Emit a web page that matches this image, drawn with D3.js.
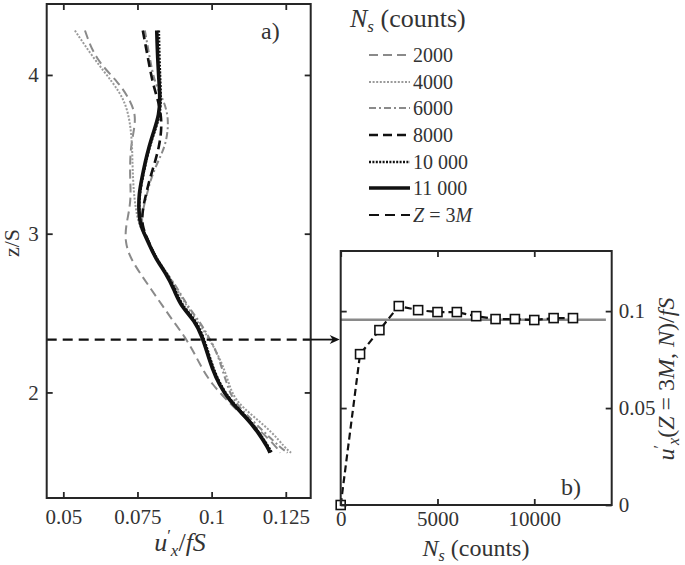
<!DOCTYPE html>
<html>
<head>
<meta charset="utf-8">
<script src="https://cdn.jsdelivr.net/npm/d3@7/dist/d3.min.js"></script>
<style>
  html, body { margin: 0; padding: 0; background: #fff; }
  svg text { font-family: "Liberation Serif", "DejaVu Serif", serif; fill: #333; }
</style>
</head>
<body>
<svg id="chart" width="685" height="565"></svg>
<script>
// ---------------- DATA ----------------
// Panel a: profiles u'_x/fS versus z/S for several sample counts
const zGrid = [4.28, 4.1, 3.95, 3.85, 3.75, 3.65, 3.55, 3.45, 3.35, 3.25, 3.15, 3.05, 2.95, 2.85, 2.75, 2.65, 2.55, 2.45, 2.35, 2.25, 2.15, 2.05, 1.95, 1.85, 1.75, 1.65, 1.62];
const u2000  = [0.0573, 0.0607, 0.0688, 0.0722, 0.0745, 0.0738, 0.0728, 0.0725, 0.0725, 0.0728, 0.0723, 0.0711, 0.0708, 0.0725, 0.0759, 0.0796, 0.0833, 0.0870, 0.0910, 0.0941, 0.0968, 0.1002, 0.1052, 0.1106, 0.1170, 0.1221, 0.1231];
const u4000  = [0.0539, 0.0604, 0.0668, 0.0703, 0.0720, 0.0728, 0.0732, 0.0733, 0.0735, 0.0738, 0.0745, 0.0755, 0.0787, 0.0811, 0.0851, 0.0883, 0.0914, 0.0951, 0.0988, 0.1018, 0.1042, 0.1059, 0.1079, 0.1140, 0.1204, 0.1248, 0.1268];
const u6000  = [0.0775, 0.0792, 0.0808, 0.0836, 0.0853, 0.0853, 0.0843, 0.0818, 0.0796, 0.0782, 0.0768, 0.0762, 0.0787, 0.0810, 0.0850, 0.0887, 0.0917, 0.0958, 0.0991, 0.1018, 0.1035, 0.1052, 0.1072, 0.1123, 0.1177, 0.1234, 0.1256];
const u8000  = [0.0768, 0.0786, 0.0801, 0.0818, 0.0830, 0.0831, 0.0823, 0.0809, 0.0792, 0.0779, 0.0767, 0.0764, 0.0788, 0.0810, 0.0847, 0.0875, 0.0896, 0.0946, 0.0970, 0.0987, 0.1004, 0.1027, 0.1061, 0.1115, 0.1159, 0.1192, 0.1199];
const u10000 = [0.0822, 0.0824, 0.0827, 0.0829, 0.0826, 0.0809, 0.0791, 0.0778, 0.0767, 0.0757, 0.0755, 0.0760, 0.0787, 0.0811, 0.0849, 0.0877, 0.0899, 0.0948, 0.0972, 0.0989, 0.1006, 0.1029, 0.1063, 0.1116, 0.1160, 0.1194, 0.1203];
const u11000 = [0.0815, 0.0818, 0.0823, 0.0826, 0.0823, 0.0806, 0.0789, 0.0776, 0.0765, 0.0755, 0.0754, 0.0759, 0.0786, 0.0809, 0.0846, 0.0873, 0.0894, 0.0944, 0.0968, 0.0985, 0.1002, 0.1025, 0.1059, 0.1113, 0.1157, 0.1190, 0.1197];
const zRef = 2.333;   // Z = 3M

const seriesNames = ["2000", "4000", "6000", "8000", "10 000", "11 000"];

// Panel b: u'_x at Z = 3M versus number of samples
const nCounts = [0, 1000, 2000, 3000, 4000, 5000, 6000, 7000, 8000, 9000, 10000, 11000, 12000];
const uAtRef  = [0, 0.0778, 0.0902, 0.1026, 0.1005, 0.0995, 0.0995, 0.0974, 0.0959, 0.0959, 0.0954, 0.0964, 0.0964];
const uConverged = 0.0955;

// Tick values
const ticksAx = [0.05, 0.075, 0.1, 0.125];
const ticksAy = [2, 3, 4];
const ticksBx = [0, 5000, 10000];
const ticksBy = [0, 0.05, 0.1];

// ---------------- STYLES ----------------
const styles = [
  {stroke: "#8a8a8a", width: 2,   dash: "9,5"},
  {stroke: "#9a9a9a", width: 2,   dash: "2,1.6"},
  {stroke: "#8a8a8a", width: 2,   dash: "7,3,2,3"},
  {stroke: "#111",    width: 2.6, dash: "9,5"},
  {stroke: "#111",    width: 2.6, dash: "2,1.4"},
  {stroke: "#111",    width: 3.6, dash: null}
];
const seriesVals = [u2000, u4000, u6000, u8000, u10000, u11000];

const svg = d3.select("#chart");
const axisColor = "#262626";

// ---------------- PANEL A ----------------
const xA = d3.scaleLinear().domain([0.0444, 0.1334]).range([46.7, 310.7]);
const yA = d3.scaleLinear().domain([1.335, 4.447]).range([498, 4]);

const gA = svg.append("g");
const lineA = d3.line().x(d => xA(d[0])).y(d => yA(d[1])).curve(d3.curveBasis);

seriesVals.forEach((vals, i) => {
  const pts = vals.map((v, k) => [v, zGrid[k]]);
  gA.append("path")
    .attr("d", lineA(pts))
    .attr("fill", "none")
    .attr("stroke", styles[i].stroke)
    .attr("stroke-width", styles[i].width)
    .attr("stroke-dasharray", styles[i].dash);
});

// reference dashed line Z = 3M
gA.append("line")
  .attr("x1", xA.range()[0]).attr("x2", xA.range()[1])
  .attr("y1", yA(zRef)).attr("y2", yA(zRef))
  .attr("stroke", "#111").attr("stroke-width", 2.2)
  .attr("stroke-dasharray", "10,6");

function styleAxis(g) {
  g.select(".domain").remove();
  g.selectAll(".tick line").attr("stroke", axisColor).attr("stroke-width", 1.8);
  g.selectAll(".tick text").attr("font-size", 21).attr("fill", "#333")
    .attr("font-family", "Liberation Serif, serif");
}

// axes panel a
const fmtA = d => (d === 0.1 ? "0.1" : String(d));
gA.append("g").attr("transform", `translate(0,${yA.range()[0]})`)
  .call(d3.axisBottom(xA).tickValues(ticksAx).tickSize(-6).tickPadding(11).tickFormat(fmtA)).call(styleAxis);
gA.append("g").attr("transform", `translate(0,${yA.range()[1]})`)
  .call(d3.axisTop(xA).tickValues(ticksAx).tickSize(-6).tickFormat("")).call(styleAxis);
gA.append("g").attr("transform", `translate(${xA.range()[0]},0)`)
  .call(d3.axisLeft(yA).tickValues(ticksAy).tickSize(-6).tickPadding(8).tickFormat(d3.format("d"))).call(styleAxis);
gA.append("g").attr("transform", `translate(${xA.range()[1]},0)`)
  .call(d3.axisRight(yA).tickValues(ticksAy).tickSize(-6).tickFormat("")).call(styleAxis);

gA.append("rect")
  .attr("x", xA.range()[0]).attr("y", yA.range()[1])
  .attr("width", xA.range()[1] - xA.range()[0]).attr("height", yA.range()[0] - yA.range()[1])
  .attr("fill", "none").attr("stroke", axisColor).attr("stroke-width", 2);

// labels panel a
const xlabA = gA.append("text").attr("x", 180).attr("y", 551).attr("text-anchor", "middle").attr("font-size", 26);
xlabA.append("tspan").attr("font-style", "italic").text("u");
xlabA.append("tspan").attr("font-size", 17).attr("dy", -10).text("′");
xlabA.append("tspan").attr("font-size", 17).attr("font-style", "italic").attr("dy", 15).text("x");
xlabA.append("tspan").attr("dy", -5).text("/");
xlabA.append("tspan").attr("font-style", "italic").text("fS");

gA.append("text").attr("transform", "translate(19,243) rotate(-90)")
  .attr("text-anchor", "middle").attr("font-size", 22).text("z/S");

gA.append("text").attr("x", 261).attr("y", 39).attr("font-size", 24).text("a)");

// ---------------- PANEL B ----------------
const xB = d3.scaleLinear().domain([0, 14000]).range([340.7, 611.7]);
const yB = d3.scaleLinear().domain([0, 0.131]).range([505, 251]);
const gB = svg.append("g");

gB.append("line")
  .attr("x1", xB(0)).attr("x2", xB(13700))
  .attr("y1", yB(uConverged)).attr("y2", yB(uConverged))
  .attr("stroke", "#8a8a8a").attr("stroke-width", 2.5);

const lineB = d3.line().x((d, i) => xB(nCounts[i])).y(d => yB(d));
gB.append("path").attr("d", lineB(uAtRef))
  .attr("fill", "none").attr("stroke", "#111").attr("stroke-width", 2.2)
  .attr("stroke-dasharray", "7,4");

gB.selectAll("rect.pt").data(uAtRef).enter().append("rect")
  .attr("class", "pt")
  .attr("x", (d, i) => xB(nCounts[i]) - 4.5).attr("y", d => yB(d) - 4.5)
  .attr("width", 9).attr("height", 9)
  .attr("fill", "#fff").attr("stroke", "#111").attr("stroke-width", 1.6);

gB.append("g").attr("transform", `translate(0,${yB.range()[0]})`)
  .call(d3.axisBottom(xB).tickValues(ticksBx).tickSize(-6).tickPadding(6).tickFormat(d3.format("d"))).call(styleAxis);
gB.append("g").attr("transform", `translate(0,${yB.range()[1]})`)
  .call(d3.axisTop(xB).tickValues(ticksBx).tickSize(-6).tickFormat("")).call(styleAxis);
gB.append("g").attr("transform", `translate(${xB.range()[0]},0)`)
  .call(d3.axisLeft(yB).tickValues(ticksBy).tickSize(-6).tickFormat("")).call(styleAxis);
gB.append("g").attr("transform", `translate(${xB.range()[1]},0)`)
  .call(d3.axisRight(yB).tickValues(ticksBy).tickSize(-6).tickPadding(7).tickFormat(d => d === 0 ? "0" : String(d))).call(styleAxis);

gB.append("rect")
  .attr("x", xB.range()[0]).attr("y", yB.range()[1])
  .attr("width", xB.range()[1] - xB.range()[0]).attr("height", yB.range()[0] - yB.range()[1])
  .attr("fill", "none").attr("stroke", axisColor).attr("stroke-width", 2);

// x label panel b
const xlabB = gB.append("text").attr("x", 476).attr("y", 556).attr("text-anchor", "middle").attr("font-size", 24);
xlabB.append("tspan").attr("font-style", "italic").text("N");
xlabB.append("tspan").attr("font-size", 16).attr("font-style", "italic").attr("dy", 5).text("s");
xlabB.append("tspan").attr("dy", -5).text(" (counts)");

// right y label panel b
const ylabB = gB.append("text").attr("transform", "translate(674,379) rotate(-90)")
  .attr("text-anchor", "middle").attr("font-size", 24);
ylabB.append("tspan").attr("font-style", "italic").text("u");
ylabB.append("tspan").attr("font-size", 16).attr("dy", -9).text("′");
ylabB.append("tspan").attr("font-size", 16).attr("font-style", "italic").attr("dy", 14).text("x");
ylabB.append("tspan").attr("dy", -5).text("(");
ylabB.append("tspan").attr("font-style", "italic").text("Z");
ylabB.append("tspan").text(" = 3");
ylabB.append("tspan").attr("font-style", "italic").text("M");
ylabB.append("tspan").text(", ");
ylabB.append("tspan").attr("font-style", "italic").text("N");
ylabB.append("tspan").text(")/");
ylabB.append("tspan").attr("font-style", "italic").text("fS");

gB.append("text").attr("x", 561).attr("y", 495).attr("font-size", 24).text("b)");

// arrow from panel a to panel b
const arrowY = yA(zRef);
svg.append("line")
  .attr("x1", xA.range()[1]).attr("x2", xB.range()[0] - 6)
  .attr("y1", arrowY).attr("y2", arrowY)
  .attr("stroke", "#111").attr("stroke-width", 1.8);
svg.append("path")
  .attr("d", `M${xB.range()[0] - 1},${arrowY} L${xB.range()[0] - 11},${arrowY - 4.5} L${xB.range()[0] - 8},${arrowY} L${xB.range()[0] - 11},${arrowY + 4.5} Z`)
  .attr("fill", "#111");

// ---------------- LEGEND ----------------
const legend = svg.append("g");
const legTitle = legend.append("text").attr("x", 350).attr("y", 27).attr("font-size", 26);
legTitle.append("tspan").attr("font-style", "italic").text("N");
legTitle.append("tspan").attr("font-size", 17).attr("font-style", "italic").attr("dy", 5).text("s");
legTitle.append("tspan").attr("dy", -5).text(" (counts)");

const legStyles = styles.concat([{stroke: "#111", width: 2.2, dash: "10,6"}]);
const legRows = [55, 82, 108, 135, 162, 188, 215];
legStyles.forEach((s, i) => {
  const y = legRows[i];
  legend.append("line")
    .attr("x1", 369).attr("x2", 410).attr("y1", y).attr("y2", y)
    .attr("stroke", s.stroke).attr("stroke-width", s.width)
    .attr("stroke-dasharray", s.dash);
  const t = legend.append("text").attr("x", 413).attr("y", y + 7).attr("font-size", 20);
  if (i < seriesNames.length) {
    t.text(seriesNames[i]);
  } else {
    t.append("tspan").attr("font-style", "italic").text("Z");
    t.append("tspan").text(" = 3");
    t.append("tspan").attr("font-style", "italic").text("M");
  }
});
</script>
</body>
</html>
